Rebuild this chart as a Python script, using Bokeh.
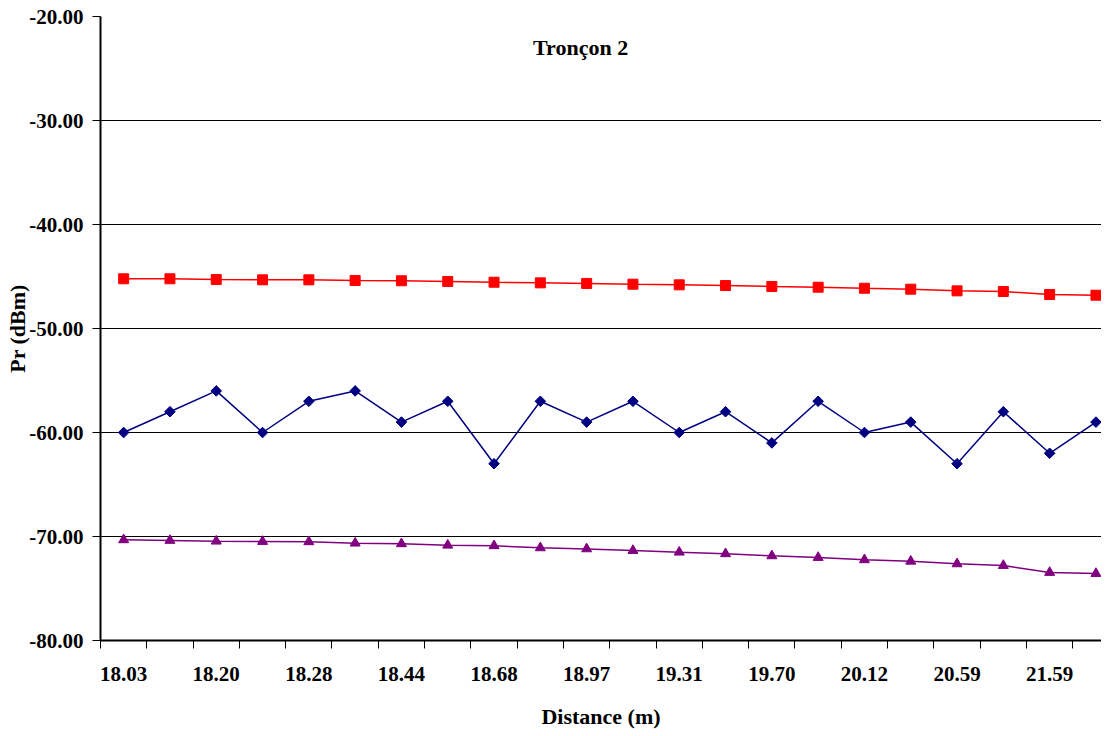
import math
from bokeh.plotting import figure
from bokeh.models import FixedTicker, Label, NumeralTickFormatter, Range1d
from bokeh.embed import file_html
from bokeh.resources import INLINE

# Distance categories (only every other label is shown on the axis; hidden ones estimated)
distances = ["18.03", "18.10", "18.20", "18.24", "18.28", "18.35", "18.44", "18.55",
             "18.68", "18.82", "18.97", "19.13", "19.31", "19.50", "19.70", "19.90",
             "20.12", "20.35", "20.59", "21.05", "21.59", "22.20"]

series_red = [-45.22, -45.22, -45.29, -45.32, -45.32, -45.38, -45.41, -45.48, -45.55, -45.61,
              -45.67, -45.74, -45.80, -45.87, -45.96, -46.03, -46.13, -46.22, -46.38, -46.44,
              -46.73, -46.80]
series_blue = [-60, -58, -56, -60, -57, -56, -59, -57, -63, -57, -59, -57, -60, -58, -61, -57,
               -60, -59, -63, -58, -62, -59]
series_purple = [-70.32, -70.38, -70.45, -70.48, -70.51, -70.64, -70.70, -70.84, -70.89, -71.09,
                 -71.19, -71.35, -71.51, -71.66, -71.86, -72.02, -72.24, -72.38, -72.63, -72.79,
                 -73.46, -73.56]

y_ticks = [-80, -70, -60, -50, -40, -30, -20]
title_text = "Tronçon 2"

FONT = "Liberation Serif"

xs = [i + 0.5 for i in range(len(distances))]

p = figure(width=1101, height=734, output_backend="svg", toolbar_location=None,
           x_range=Range1d(0, 21.62), y_range=Range1d(-80, -20),
           min_border_left=100, min_border_top=16, min_border_right=0, min_border_bottom=94)
p.outline_line_color = None
p.background_fill_color = "white"
p.border_fill_color = "white"

# series
p.line(xs, series_red, line_color="#FF0000", line_width=1.5)
p.scatter(xs, series_red, marker="square", size=10, fill_color="#FF0000", line_color="#FF0000")
p.line(xs, series_blue, line_color="#000080", line_width=1.5)
p.scatter(xs, series_blue, marker="square", angle=math.pi / 4, size=7.5,
          fill_color="#000080", line_color="#000080")
p.line(xs, series_purple, line_color="#800080", line_width=1.5)
p.scatter(xs, series_purple, marker="triangle", size=10, fill_color="#800080", line_color="#800080")

# x axis
label_pos = [xs[i] for i in range(0, len(distances), 2)]
p.xaxis.ticker = FixedTicker(ticks=label_pos, minor_ticks=list(range(0, len(distances) + 1)))
p.xaxis.major_label_overrides = {xs[i]: distances[i] for i in range(0, len(distances), 2)}
p.xaxis.major_tick_out = 0
p.xaxis.major_tick_in = 0
p.xaxis.minor_tick_out = 8
p.xaxis.minor_tick_in = 0
p.xaxis.minor_tick_line_color = "black"
p.xaxis.axis_line_color = "black"
p.xaxis.axis_line_width = 2
p.xaxis.major_label_standoff = 18
p.xaxis.major_label_text_font = FONT
p.xaxis.major_label_text_font_style = "bold"
p.xaxis.major_label_text_font_size = "21px"
p.xaxis.major_label_text_color = "black"
p.xaxis.axis_label = "Distance (m)"
p.xaxis.axis_label_text_font = FONT
p.xaxis.axis_label_text_font_style = "bold"
p.xaxis.axis_label_text_font_size = "22px"
p.xaxis.axis_label_text_color = "black"
p.xaxis.axis_label_standoff = 20

# y axis
p.yaxis.ticker = FixedTicker(ticks=y_ticks, minor_ticks=[])
p.yaxis.formatter = NumeralTickFormatter(format="0.00")
p.yaxis.major_tick_out = 8
p.yaxis.major_tick_in = 0
p.yaxis.major_tick_line_color = "black"
p.yaxis.axis_line_color = "black"
p.yaxis.axis_line_width = 2
p.yaxis.major_label_standoff = 9
p.yaxis.major_label_text_font = FONT
p.yaxis.major_label_text_font_style = "bold"
p.yaxis.major_label_text_font_size = "21px"
p.yaxis.major_label_text_color = "black"
p.yaxis.axis_label = "Pr (dBm)"
p.yaxis.axis_label_text_font = FONT
p.yaxis.axis_label_text_font_style = "bold"
p.yaxis.axis_label_text_font_size = "22px"
p.yaxis.axis_label_text_color = "black"
p.yaxis.axis_label_standoff = -4

p.xgrid.grid_line_color = None
p.ygrid.grid_line_color = "black"
p.ygrid.grid_line_width = 1

p.add_layout(Label(x=10.37, y=-22.98, text=title_text, text_align="center",
                   text_baseline="middle", text_font=FONT, text_font_style="bold",
                   text_font_size="22px", text_color="black"))

open("out.html", "w").write(file_html(p, INLINE))
